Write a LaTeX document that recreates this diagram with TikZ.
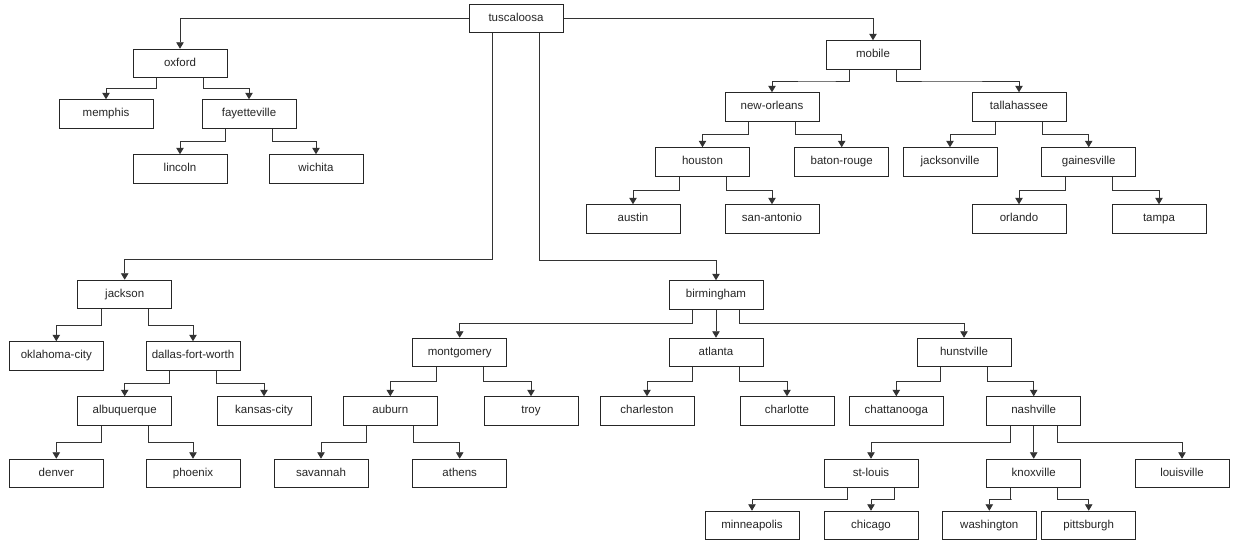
\documentclass[tikz,border=0pt]{standalone}
\usepackage{fontspec}
\setmainfont{Liberation Sans}
\usetikzlibrary{arrows.meta,calc}
\tikzset{
  city/.style={draw=black!85, line width=1pt, minimum width=94pt, minimum height=28.5pt,
    inner sep=0pt, text height=8.2pt, text depth=2.4pt,
    font=\fontsize{11.5}{13}\selectfont, text=black!85, fill=white},
  arr/.style={draw=black!80, line width=0.9pt, -{Triangle[width=7.5pt,length=6.5pt]}},
}
\newcommand{\tredge}[3]{\draw[arr] ([xshift=#3]#1.south) |- ($(#1.south)!0.5!(#2.north)$) -| (#2.north);}
\begin{document}
\begin{tikzpicture}[x=1pt,y=-1pt]
\useasboundingbox[fill=white] (0,0) rectangle (1233,549);
\node[city] (tus) at (516,18.5) {tuscaloosa};
\node[city] (oxford) at (180,63.5) {oxford};
\node[city] (memphis) at (106,114) {memphis};
\node[city] (fayetteville) at (249,114) {fayetteville};
\node[city] (lincoln) at (180,169) {lincoln};
\node[city] (wichita) at (316,169) {wichita};
\node[city] (mobile) at (873,55) {mobile};
\node[city] (neworleans) at (772,107) {new-orleans};
\node[city] (tallahassee) at (1019,107) {tallahassee};
\node[city] (houston) at (702.5,162) {houston};
\node[city] (batonrouge) at (841.7,162) {baton-rouge};
\node[city] (jacksonville) at (950,162) {jacksonville};
\node[city] (gainesville) at (1088.7,162) {gainesville};
\node[city] (austin) at (633,219) {austin};
\node[city] (sanantonio) at (772,219) {san-antonio};
\node[city] (orlando) at (1019,219) {orlando};
\node[city] (tampa) at (1159,219) {tampa};
\node[city] (jackson) at (124.7,294.5) {jackson};
\node[city] (okc) at (56.3,356) {oklahoma-city};
\node[city] (dfw) at (193,356) {dallas-fort-worth};
\node[city] (albuquerque) at (124.7,411) {albuquerque};
\node[city] (kansascity) at (264,411) {kansas-city};
\node[city] (denver) at (56.3,473.5) {denver};
\node[city] (phoenix) at (193,473.5) {phoenix};
\node[city] (birmingham) at (716,295) {birmingham};
\node[city] (montgomery) at (459.7,352.5) {montgomery};
\node[city] (atlanta) at (716,352.5) {atlanta};
\node[city] (hunstville) at (964,352.5) {hunstville};
\node[city] (auburn) at (390.3,411) {auburn};
\node[city] (troy) at (531,411) {troy};
\node[city] (charleston) at (647,411) {charleston};
\node[city] (charlotte) at (787,411) {charlotte};
\node[city] (savannah) at (321,473.5) {savannah};
\node[city] (athens) at (459.7,473.5) {athens};
\node[city] (chattanooga) at (896.3,411) {chattanooga};
\node[city] (nashville) at (1033.7,411) {nashville};
\node[city] (stlouis) at (871,473.5) {st-louis};
\node[city] (knoxville) at (1033.7,473.5) {knoxville};
\node[city] (louisville) at (1182,473.5) {louisville};
\node[city] (minneapolis) at (752,525.5) {minneapolis};
\node[city] (chicago) at (871,525.5) {chicago};
\node[city] (washington) at (989.3,525.5) {washington};
\node[city] (pittsburgh) at (1088.7,525.5) {pittsburgh};
% root connectors
\draw[arr] (tus.west) -| (oxford.north);
\draw[arr] (tus.east) -| (mobile.north);
\draw[arr] ([xshift=-23.5pt]tus.south) |- ($(jackson.north)+(0,-20.5)$) -| (jackson.north);
\draw[arr] ([xshift=23.5pt]tus.south) |- ($(birmingham.north)+(0,-20)$) -| (birmingham.north);
% subtrees
\tredge{oxford}{memphis}{-23.5pt}
\tredge{oxford}{fayetteville}{23.5pt}
\tredge{fayetteville}{lincoln}{-23.5pt}
\tredge{fayetteville}{wichita}{23.5pt}
\tredge{mobile}{neworleans}{-23.5pt}
\tredge{mobile}{tallahassee}{23.5pt}
\tredge{neworleans}{houston}{-23.5pt}
\tredge{neworleans}{batonrouge}{23.5pt}
\tredge{tallahassee}{jacksonville}{-23.5pt}
\tredge{tallahassee}{gainesville}{23.5pt}
\tredge{houston}{austin}{-23.5pt}
\tredge{houston}{sanantonio}{23.5pt}
\tredge{gainesville}{orlando}{-23.5pt}
\tredge{gainesville}{tampa}{23.5pt}
\tredge{jackson}{okc}{-23.5pt}
\tredge{jackson}{dfw}{23.5pt}
\tredge{dfw}{albuquerque}{-23.5pt}
\tredge{dfw}{kansascity}{23.5pt}
\tredge{albuquerque}{denver}{-23.5pt}
\tredge{albuquerque}{phoenix}{23.5pt}
\tredge{birmingham}{montgomery}{-23.5pt}
\tredge{birmingham}{atlanta}{0pt}
\tredge{birmingham}{hunstville}{23.5pt}
\tredge{montgomery}{auburn}{-23.5pt}
\tredge{montgomery}{troy}{23.5pt}
\tredge{auburn}{savannah}{-23.5pt}
\tredge{auburn}{athens}{23.5pt}
\tredge{atlanta}{charleston}{-23.5pt}
\tredge{atlanta}{charlotte}{23.5pt}
\tredge{hunstville}{chattanooga}{-23.5pt}
\tredge{hunstville}{nashville}{23.5pt}
\tredge{nashville}{stlouis}{-23.5pt}
\tredge{nashville}{knoxville}{0pt}
\tredge{nashville}{louisville}{23.5pt}
\tredge{stlouis}{minneapolis}{-23.5pt}
\tredge{stlouis}{chicago}{23.5pt}
\tredge{knoxville}{washington}{-23.5pt}
\tredge{knoxville}{pittsburgh}{23.5pt}
\end{tikzpicture}
\end{document}
